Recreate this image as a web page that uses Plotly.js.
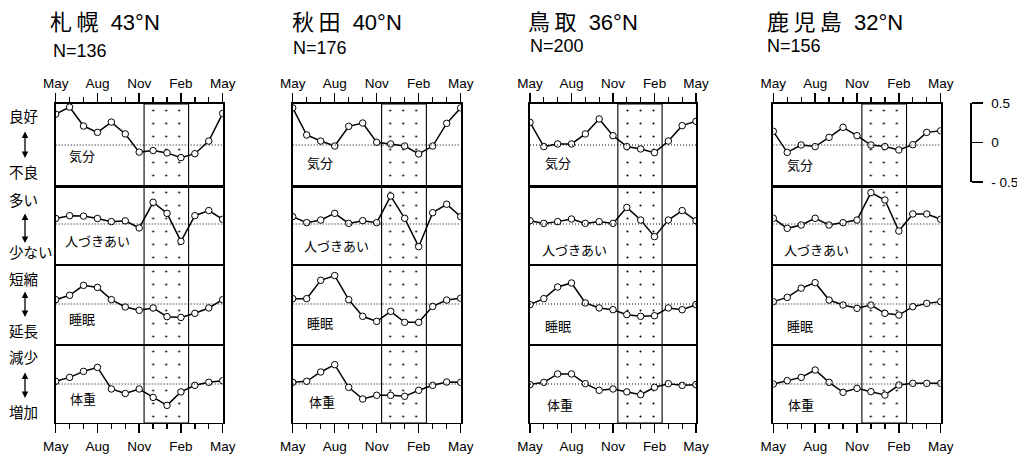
<!DOCTYPE html>
<html><head><meta charset="utf-8">
<script src="https://cdn.plot.ly/plotly-3.0.1.min.js"></script>
<style>html,body{margin:0;padding:0;background:#fff;}#chart{width:1017px;height:456px;}</style>
</head><body><div id="chart"></div>
<script>
// ---------- data ----------
const monthIndex = [0,1,2,3,4,5,6,7,8,9,10,11,12];          // May ... May
const tickMonths = ['May','Aug','Nov','Feb','May'];
const tickMonthIndex = [0,3,6,9,12];
const cities = ['札\u2009幌','秋\u2009田','鳥\u2009取','鹿\u2009児\u2009島'];
const latitudes = ['43°N','40°N','36°N','32°N'];
const sampleSizes = [136,176,200,156];
const measures = ['気分','人づきあい','睡眠','体重'];
const scaleTicks = [0.5, 0, -0.5];
const scaleTickText = ['0.5','0','- 0.5'];
const winterBand = [6.35, 9.55];

const sapporoMood   = [0.39,0.48,0.24,0.16,0.29,0.14,-0.09,-0.07,-0.10,-0.16,-0.11,0.05,0.40];
const sapporoSocial = [0.07,0.105,0.10,0.07,0.03,0.04,-0.05,0.275,0.135,-0.22,0.105,0.17,0.06];
const sapporoSleep  = [0.055,0.11,0.236,0.21,0.055,-0.038,-0.08,-0.05,-0.16,-0.17,-0.118,-0.05,0.055];
const sapporoWeight = [0.034,0.084,0.16,0.21,-0.063,-0.12,-0.063,-0.17,-0.27,-0.10,-0.017,0.021,0.042];

const akitaMood   = [0.47,0.127,0.05,-0.013,0.236,0.278,0.034,0.013,-0.013,-0.114,-0.013,0.274,0.47];
const akitaSocial = [0.093,0.017,0.05,0.135,0.008,0.042,0.017,0.354,0.072,-0.287,0.143,0.25,0.093];
const akitaSleep  = [0.068,0.068,0.30,0.36,0.055,-0.156,-0.22,-0.093,-0.232,-0.232,-0.03,0.05,0.072];
const akitaWeight = [0.021,0.034,0.152,0.245,-0.042,-0.19,-0.143,-0.143,-0.156,-0.08,-0.017,0.025,0.021];

const tottoriMood   = [0.287,-0.02,0.013,0.013,0.14,0.33,0.118,-0.02,-0.05,-0.097,0.05,0.245,0.30];
const tottoriSocial = [0.042,0.008,0.03,0.063,0.008,0.03,0.008,0.21,0.05,-0.16,0.05,0.17,0.042];
const tottoriSleep  = [-0.008,0.068,0.215,0.266,0.013,-0.05,-0.072,-0.135,-0.156,-0.148,-0.05,-0.072,-0.008];
const tottoriWeight = [-0.008,0.021,0.127,0.127,0.004,-0.08,-0.063,-0.10,-0.135,-0.042,0.004,-0.017,-0.008];

const kagoshimaMood   = [0.173,-0.093,0,-0.02,0.097,0.224,0.118,0,-0.02,-0.063,0.004,0.16,0.18];
const kagoshimaSocial = [0.072,-0.055,-0.013,0.072,-0.013,0.017,0.05,0.397,0.304,-0.089,0.127,0.127,0.06];
const kagoshimaSleep  = [0.03,0.084,0.2,0.27,0.05,-0.013,-0.055,-0.013,-0.118,-0.14,-0.034,0.008,0.03];
const kagoshimaWeight = [0,0.042,0.084,0.177,0.021,-0.105,-0.055,-0.097,-0.14,-0.013,0.008,0.008,0.008];

const seriesByCity = [
  [sapporoMood, sapporoSocial, sapporoSleep, sapporoWeight],
  [akitaMood, akitaSocial, akitaSleep, akitaWeight],
  [tottoriMood, tottoriSocial, tottoriSleep, tottoriWeight],
  [kagoshimaMood, kagoshimaSocial, kagoshimaSleep, kagoshimaWeight]
];
const leftLabels = ['良好','不良','多い','少ない','短縮','延長','減少','増加'];

// ---------- layout geometry (pixels) ----------
const W = 1017, H = 456;
const px = v => v / W, py = v => 1 - v / H;
const colPx = [[55.7,222.7],[292.7,460.7],[530,696],[773.3,940.7]];
const rowTop = [104,186,265,345], rowBot = [186,265,345,423], zeroPx = [145,224,304,384];
const unitPx = 79;
const rowRange = rowTop.map((t,r)=>[-(rowBot[r]-zeroPx[r])/unitPx, (zeroPx[r]-t)/unitPx]);
const labelPos = [
  [[0.8,-0.15],[0.53,-0.22],[0.8,-0.19],[0.88,-0.19]],
  [[0.88,-0.23],[0.64,-0.29],[0.88,-0.25],[1.0,-0.24]],
  [[0.96,-0.24],[0.72,-0.34],[0.96,-0.29],[1.08,-0.27]],
  [[0.84,-0.26],[0.6,-0.34],[0.84,-0.29],[0.9,-0.27]]
];
const titlePos = [[48,22.7,51,51],[290,22,291,47.7],[526,23,528,45.7],[765,22.5,765,46]];
const leftLabelY = [117,173,200,253,280,332,358,413];
const arrowsY = [[130,158],[212,243],[290,317],[371,398]];

const FONT = "'Liberation Sans', Arial, 'Noto Sans CJK JP', sans-serif";
const traces = [], shapes = [], annotations = [];
const layout = {
  width: W, height: H, margin:{l:0,r:0,t:0,b:0},
  paper_bgcolor:'#fff', plot_bgcolor:'rgba(0,0,0,0)',
  showlegend:false, font:{family:FONT, color:'#000', size:13},
};

for (let c = 0; c < 4; c++) {
  for (let r = 0; r < 4; r++) {
    const k = r*4 + c + 1;
    const xa = 'xaxis' + (k===1?'':k), ya = 'yaxis' + (k===1?'':k);
    const xid = 'x' + (k===1?'':k), yid = 'y' + (k===1?'':k);
    const xax = {
      domain:[px(colPx[c][0]), px(colPx[c][1])], range:[0,12], anchor:yid,
      showgrid:false, zeroline:false, showline:true, mirror:true, linewidth:1.1, linecolor:'#000',
      fixedrange:true
    };
    if (r === 0 || r === 3) {
      Object.assign(xax, {
        side: r===0 ? 'top' : 'bottom',
        tickmode:'array', tickvals:tickMonthIndex, ticktext:tickMonths,
        ticks:'outside', ticklen:9, tickwidth:1.5, tickcolor:'#000',
        ticklabelstandoff: r===0 ? 0 : 2,
        tickfont:{size:13.5, family:FONT, color:'#000'},
        minor:{tickvals:[1,2,4,5,7,8,10,11], ticks:'outside', ticklen:5, tickwidth:1.3, tickcolor:'#000'}
      });
      if (r === 0) xax.linewidth = 2;
    } else {
      Object.assign(xax, {showticklabels:false, ticks:''});
    }
    layout[xa] = xax;
    layout[ya] = {
      domain:[py(rowBot[r]), py(rowTop[r])], range:rowRange[r], anchor:xid,
      showgrid:false, zeroline:false, showline:true, mirror:true, linewidth:2, linecolor:'#000',
      showticklabels:false, ticks:'', fixedrange:true
    };
    // winter band with dot pattern
    const [lo, hi] = rowRange[r];
    traces.push({
      x:[winterBand[0],winterBand[1],winterBand[1],winterBand[0],winterBand[0]],
      y:[lo,lo,hi,hi,lo], xaxis:xid, yaxis:yid, mode:'lines', fill:'toself',
      fillcolor:'rgba(255,255,255,0)',
      fillpattern:{shape:'.', size:13, solidity:0.02, fgcolor:'#000', bgcolor:'rgba(255,255,255,0)'},
      line:{color:'#000', width:1.1}, hoverinfo:'skip'
    });
    // zero line
    shapes.push({type:'line', xref:xid, yref:yid, x0:0, x1:12, y0:0, y1:0,
      line:{color:'#000', width:1, dash:'1px,2px'}});
    // data
    traces.push({
      x:monthIndex, y:seriesByCity[c][r], xaxis:xid, yaxis:yid, mode:'lines+markers',
      line:{color:'#000', width:1.5},
      marker:{symbol:'circle', size:6.5, color:'#fff', line:{color:'#000', width:1}},
      hoverinfo:'skip'
    });
    annotations.push({xref:xid, yref:yid, x:labelPos[c][r][0], y:labelPos[c][r][1],
      text:measures[r], showarrow:false, xanchor:'left', yanchor:'middle',
      font:{size:13, family:FONT}});
  }
  annotations.push({xref:'paper', yref:'paper', x:px(titlePos[c][0]), y:py(titlePos[c][1]),
    text:cities[c] + '  ' + latitudes[c], showarrow:false, xanchor:'left', yanchor:'middle',
    font:{size:22, family:FONT}});
  annotations.push({xref:'paper', yref:'paper', x:px(titlePos[c][2]), y:py(titlePos[c][3]),
    text:'N=' + sampleSizes[c], showarrow:false, xanchor:'left', yanchor:'middle',
    font:{size:18, family:FONT}});
}

// left side labels and arrows (first panel only)
leftLabels.forEach((t,i)=>annotations.push({xref:'paper', yref:'paper', x:px(7), y:py(leftLabelY[i]),
  text:t, showarrow:false, xanchor:'left', yanchor:'middle', font:{size:14.5, family:FONT}}));
arrowsY.forEach(([a,b])=>annotations.push({xref:'paper', yref:'paper', x:px(25), y:py(b),
  ax:0, ay:-(b-a), text:'', showarrow:true, arrowside:'end+start', arrowhead:2, startarrowhead:2,
  arrowsize:1, startarrowsize:1, arrowwidth:1.3, arrowcolor:'#000'}));

// scale bar axis
layout.yaxis17 = {
  domain:[py(182), py(103)], range:[-0.5,0.5], anchor:'free', position:px(970), side:'right',
  showline:true, linewidth:1.5, linecolor:'#000', ticks:'outside', ticklen:11, tickwidth:1.5,
  tickcolor:'#000', tickmode:'array', tickvals:scaleTicks, ticktext:scaleTickText,
  tickfont:{size:13.5, family:FONT}, showgrid:false, zeroline:false, fixedrange:true,
  ticklabelstandoff:6
};
traces.push({x:[0], y:[0], xaxis:'x', yaxis:'y17', mode:'none', hoverinfo:'skip'});

layout.shapes = shapes;
layout.annotations = annotations;
Plotly.newPlot('chart', traces, layout, {staticPlot:true, displayModeBar:false});
</script></body></html>
